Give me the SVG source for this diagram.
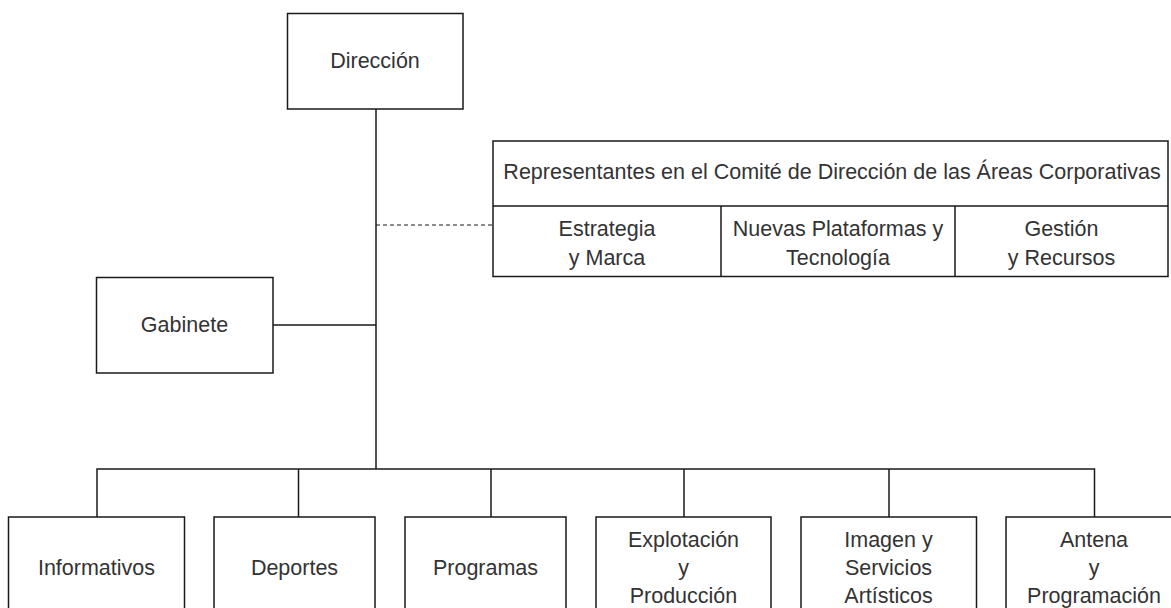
<svg xmlns="http://www.w3.org/2000/svg" width="1171" height="608" viewBox="0 0 1171 608">
<style>
.box{fill:#fff;stroke:#1a1a1a;stroke-width:1.5}
.ln{fill:none;stroke:#1a1a1a;stroke-width:1.5}
.dash{fill:none;stroke:#1a1a1a;stroke-width:1.2;stroke-dasharray:4 3}
text{font-family:"Liberation Sans",Arial,sans-serif;font-size:21.5px;fill:#333;text-anchor:middle}
</style>
<rect width="1171" height="608" fill="#fff"/>
<g id="connectors">
<path class="ln" d="M376 109V469M273 325H376M97 517V469H1094.5V517M298.5 469V517M491 469V517M684 469V517M889 469V517"/>
<path class="dash" d="M376 225H493"/>
</g>
<g id="direccion">
<rect class="box" x="287.5" y="13.5" width="175.5" height="95.5"/>
<text x="375" y="68">Dirección</text>
</g>
<g id="gabinete">
<rect class="box" x="96.5" y="277.5" width="176.5" height="95.5"/>
<text x="184.5" y="332">Gabinete</text>
</g>
<g id="comite">
<rect class="box" x="493" y="141" width="675" height="135.5"/>
<path class="ln" d="M493 206H1168M721 206V276.5M955 206V276.5"/>
<text x="832" y="179">Representantes en el Comité de Dirección de las Áreas Corporativas</text>
<text x="607" y="236">Estrategia</text>
<text x="607" y="265">y Marca</text>
<text x="838" y="236">Nuevas Plataformas y</text>
<text x="838" y="265">Tecnología</text>
<text x="1061.5" y="236">Gestión</text>
<text x="1061.5" y="265">y Recursos</text>
</g>
<g id="informativos">
<rect class="box" x="8.5" y="517" width="176" height="120"/>
<text x="96.5" y="575">Informativos</text>
</g>
<g id="deportes">
<rect class="box" x="214" y="517" width="161" height="120"/>
<text x="294.5" y="575">Deportes</text>
</g>
<g id="programas">
<rect class="box" x="405" y="517" width="161" height="120"/>
<text x="485.5" y="575">Programas</text>
</g>
<g id="explotacion">
<rect class="box" x="596" y="517" width="175" height="120"/>
<text x="683.5" y="547">Explotación</text>
<text x="683.5" y="575">y</text>
<text x="683.5" y="603">Producción</text>
</g>
<g id="imagen">
<rect class="box" x="801" y="517" width="175.5" height="120"/>
<text x="888.5" y="547">Imagen y</text>
<text x="888.5" y="575">Servicios</text>
<text x="888.5" y="603">Artísticos</text>
</g>
<g id="antena">
<rect class="box" x="1006" y="517" width="176" height="120"/>
<text x="1094" y="547">Antena</text>
<text x="1094" y="575">y</text>
<text x="1094" y="603">Programación</text>
</g>
</svg>
